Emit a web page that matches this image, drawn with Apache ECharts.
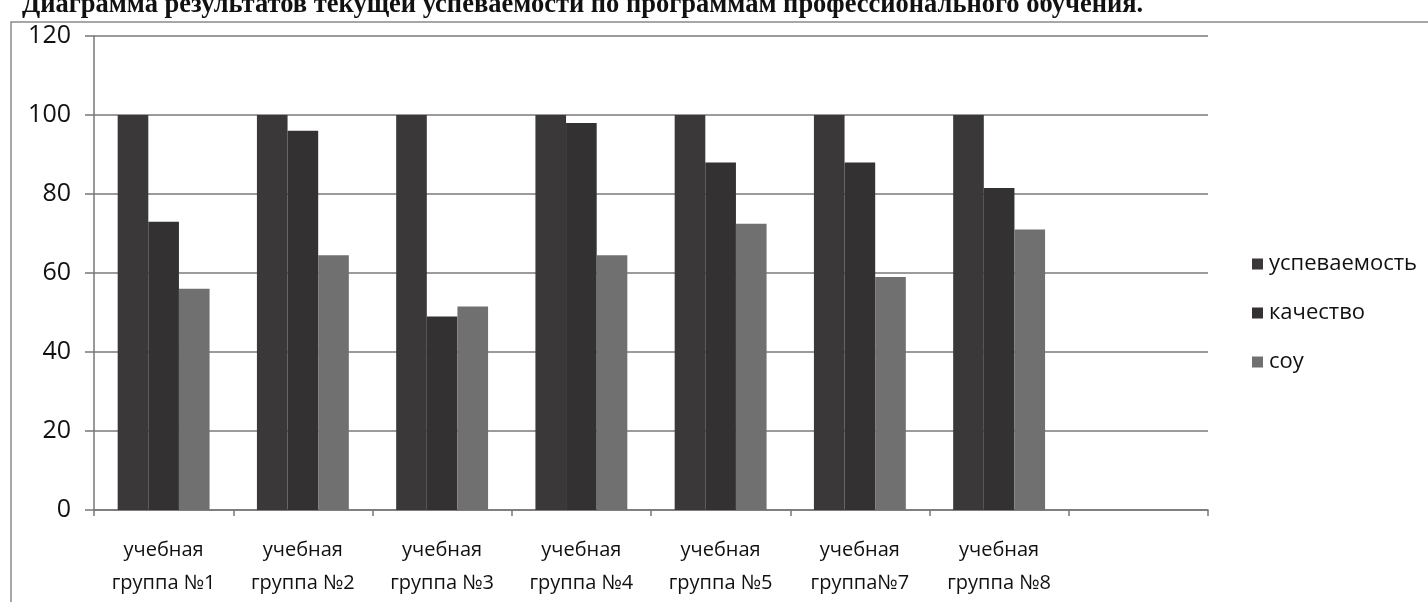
<!DOCTYPE html>
<html>
<head>
<meta charset="utf-8">
<script src="https://cdn.jsdelivr.net/npm/echarts@6/dist/echarts.min.js"></script>
<style>
  html, body { margin: 0; padding: 0; background: #fff; }
  #chart { width: 1428px; height: 602px; }
</style>
</head>
<body>
<div id="chart"></div>
<script>
// данные диаграммы
var title = "Диаграмма результатов текущей успеваемости по программам профессионального обучения.";
var groups = [
  "учебная\nгруппа №1",
  "учебная\nгруппа №2",
  "учебная\nгруппа №3",
  "учебная\nгруппа №4",
  "учебная\nгруппа №5",
  "учебная\nгруппа№7",
  "учебная\nгруппа №8",
  ""
];
var seriesNames = ["успеваемость", "качество", "соу"];
var uspevaemost = [100, 100, 100, 100, 100, 100, 100, null];
var kachestvo = [73, 96, 49, 98, 88, 88, 81.5, null];
var sou = [56, 64.5, 51.5, 64.5, 72.5, 59, 71, null];
var yTicks = [0, 20, 40, 60, 80, 100, 120];

var colors = ["#3a3838", "#333131", "#707070"];
var font = "'Open Sans', 'Noto Sans', sans-serif";

var chart = echarts.init(document.getElementById("chart"));

var option = {
  backgroundColor: "#fff",
  animation: false,
  color: colors,
  graphic: [
    {
      type: "rect",
      shape: { x: 11, y: 22, width: 1440, height: 600 },
      style: { fill: "none", stroke: "#8a8a8a", lineWidth: 1.5 },
      z: -1
    },
    {
      type: "text",
      x: 22,
      y: 19,
      style: {
        text: title,
        font: "bold 26.5px 'Liberation Serif', serif",
        fill: "#111",
        verticalAlign: "bottom"
      }
    }
  ],
  legend: {
    orient: "vertical",
    left: 1247,
    top: 248,
    itemGap: 27,
    itemWidth: 11,
    itemHeight: 11,
    icon: "rect",
    data: seriesNames,
    textStyle: { fontFamily: font, fontSize: 22, color: "#111", padding: [0, 0, 0, 1] }
  },
  grid: { left: 94, right: 220, top: 36, bottom: 92 },
  xAxis: {
    type: "category",
    data: groups,
    axisLine: { lineStyle: { color: "#777", width: 1.5 } },
    axisTick: { show: true, length: 6, lineStyle: { color: "#777", width: 1.5 } },
    axisLabel: {
      fontFamily: font,
      fontSize: 20,
      color: "#111",
      lineHeight: 33,
      margin: 24,
      interval: 0
    }
  },
  yAxis: {
    type: "value",
    min: yTicks[0],
    max: yTicks[yTicks.length - 1],
    interval: 20,
    axisLine: { show: true, lineStyle: { color: "#777", width: 1.5 } },
    axisTick: { show: true, length: 9, lineStyle: { color: "#777", width: 1.5 } },
    splitLine: { lineStyle: { color: "#7a7a7a", width: 1.5 } },
    axisLabel: { fontFamily: font, fontSize: 25, color: "#111", margin: 23 }
  },
  series: [
    { name: seriesNames[0], type: "bar", data: uspevaemost, barGap: "0%", barCategoryGap: "34%" },
    { name: seriesNames[1], type: "bar", data: kachestvo, barGap: "0%", barCategoryGap: "34%" },
    { name: seriesNames[2], type: "bar", data: sou, barGap: "0%", barCategoryGap: "34%" }
  ]
};

chart.setOption(option);
</script>
</body>
</html>
